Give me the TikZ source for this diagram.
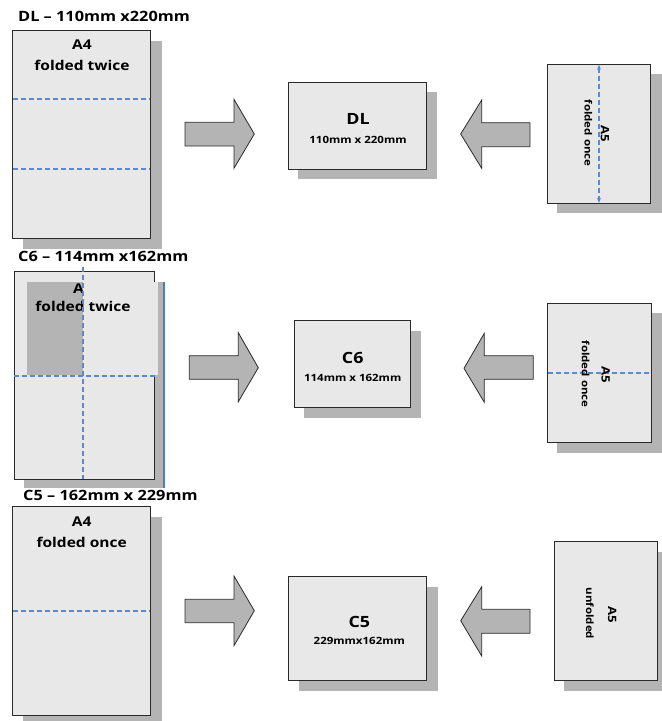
\documentclass[tikz,border=0pt]{standalone}
\usepackage{fontspec}
\setmainfont{Open Sans}[FakeStretch=1.15]
\usetikzlibrary{arrows.meta}
\definecolor{paper}{HTML}{E8E8E8}
\definecolor{shadegray}{HTML}{B4B4B4}
\definecolor{foldblue}{HTML}{5F87CF}
\definecolor{edgeblue}{HTML}{4A7BD0}
\definecolor{edge}{HTML}{2A2A2A}
\tikzset{
  sheet/.style={fill=paper, draw=edge, line width=0.9pt},
  shadowbox/.style={fill=shadegray, draw=none},
  foldline/.style={draw=foldblue, line width=1.5pt, dash pattern=on 5pt off 3pt},
  blockarrow/.style={fill=shadegray, draw=edge, line width=0.8pt, line join=miter},
  titletext/.style={font=\fontsize{14.2}{16}\selectfont\bfseries, anchor=west, inner sep=0pt},
  sheettext/.style={font=\fontsize{13.5}{16}\selectfont\bfseries, inner sep=0pt},
  envbig/.style={font=\fontsize{15.5}{18}\selectfont\bfseries, inner sep=0pt},
  envsmall/.style={font=\fontsize{10}{12}\selectfont\bfseries, inner sep=0pt},
  sidebig/.style={rotate=-90, font=\fontsize{11.5}{13}\selectfont\bfseries, inner sep=0pt},
  sidesmall/.style={rotate=-90, font=\fontsize{10}{12}\selectfont\bfseries, inner sep=0pt}
}
\begin{document}
\begin{tikzpicture}[x=1pt,y=-1pt]
\useasboundingbox (0,0) rectangle (662,721);

% ---------- titles ----------
\node[titletext] (t1) at (18,16) {DL -- 110mm x220mm};
\node[titletext] (t2) at (18,256) {C6 -- 114mm x162mm};
\node[titletext] (t3) at (23,495) {C5 -- 162mm x 229mm};

% ================= Row 1 : DL =================
\fill[shadowbox] (22.7,40.7) rectangle (161.7,248.7);
\draw[sheet] (12.7,30.7) rectangle (150.7,238.7);
\node[sheettext] (a4a) at (82,45) {A4};
\node[sheettext] (a4at) at (82,65) {folded twice};
\draw[foldline] (13,99) -- (150,99);
\draw[foldline] (13,169) -- (150,169);

\draw[blockarrow] (185,122.3) -- (234,122.3) -- (234,99.3) -- (254.3,134) -- (234,168.3) -- (234,146) -- (185,146) -- cycle;

\fill[shadowbox] (298.3,92.3) rectangle (437.3,179.3);
\draw[sheet] (288.3,82.3) rectangle (426.7,169);
\node[envbig] (dl) at (358,119.3) {DL};
\node[envsmall] (dlsz) at (358,140) {110mm x 220mm};

\draw[blockarrow] (530,122.7) -- (481.7,122.7) -- (481.7,100) -- (460.7,134) -- (481.7,168.3) -- (481.7,146.7) -- (530,146.7) -- cycle;

\fill[shadowbox] (557.3,74.3) rectangle (662,213.3);
\draw[sheet] (547.3,64.3) rectangle (650.7,203.3);
\coordinate (fa) at (599,64.8);
\coordinate (fb) at (599,202.8);
\draw[foldline, {Stealth[length=5pt,width=4pt]}-{Stealth[length=5pt,width=4pt]}] (fa) -- (fb);
\node[sidebig] (a5a) at (605,134) {A5};
\node[sidesmall] (a5at) at (588.3,133) {folded once};

% ================= Row 2 : C6 =================
\fill[shadowbox] (24,281.7) rectangle (163.5,488.3);
\draw[edgeblue, line width=2pt] (164,281.7) -- (164,488.3);
\draw[sheet] (14,271.7) rectangle (154,479.3);
\fill[shadegray] (26.7,281.7) rectangle (83,375);
\node[sheettext] (a4b) at (83,288.3) {A4};
\fill[paper] (83,281.7) rectangle (157.7,375);
\node[sheettext] (a4bt) at (83,306.7) {folded twice};
\draw[foldline] (83,267) -- (83,479);
\draw[foldline] (14,376) -- (157.7,376);

\draw[blockarrow] (189.3,355.7) -- (238.3,355.7) -- (238.3,332.7) -- (258.3,367.7) -- (238.3,401.7) -- (238.3,379.3) -- (189.3,379.3) -- cycle;

\fill[shadowbox] (304.3,330.7) rectangle (421,418.3);
\draw[sheet] (294.3,320.7) rectangle (410.7,407.7);
\node[envbig] (c6) at (352.7,357.7) {C6};
\node[envsmall] (c6sz) at (352.7,378.3) {114mm x 162mm};

\draw[blockarrow] (533.3,355.7) -- (484.3,355.7) -- (484.3,333.3) -- (464,368.3) -- (484.3,402.3) -- (484.3,379.3) -- (533.3,379.3) -- cycle;

\fill[shadowbox] (557.3,313.3) rectangle (662,453.3);
\draw[sheet] (547.3,303.3) rectangle (651.7,442.3);
\draw[foldline] (548,373) -- (651,373);
\node[sidebig] (a5b) at (605.7,375) {A5};
\node[sidesmall] (a5bt) at (585.7,374) {folded once};

% ================= Row 3 : C5 =================
\fill[shadowbox] (22.7,516.7) rectangle (161.7,721);
\draw[sheet] (12.7,506.7) rectangle (150.7,715);
\node[sheettext] (a4c) at (81.7,521.7) {A4};
\node[sheettext] (a4ct) at (81.7,542.3) {folded once};
\draw[foldline] (13,611) -- (150,611);

\draw[blockarrow] (185,599.3) -- (234,599.3) -- (234,576) -- (254.3,610.7) -- (234,645.7) -- (234,622.7) -- (185,622.7) -- cycle;

\fill[shadowbox] (298.8,586.5) rectangle (437.7,690.7);
\draw[sheet] (288.3,576) rectangle (426.7,680);
\node[envbig] (c5) at (359.3,621.7) {C5};
\node[envsmall] (c5sz) at (359.3,640.7) {229mmx162mm};

\draw[blockarrow] (530,609.3) -- (481.7,609.3) -- (481.7,586.7) -- (460.7,620.7) -- (481.7,656) -- (481.7,633.3) -- (530,633.3) -- cycle;

\fill[shadowbox] (564.3,551.7) rectangle (662,691);
\draw[sheet] (554.3,541.7) rectangle (657.7,680);
\node[sidebig] (a5c) at (612.3,615) {A5};
\node[sidesmall] (a5ct) at (590,613.3) {unfolded};
\end{tikzpicture}
\end{document}
